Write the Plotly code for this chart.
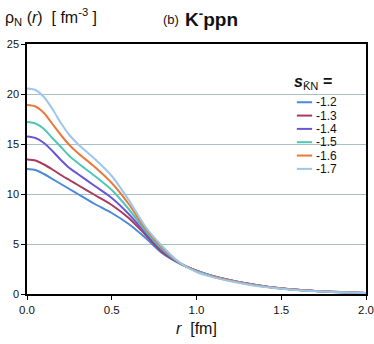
import plotly.graph_objects as go

# radial grid [fm]
r = [0.0, 0.05, 0.1, 0.15, 0.2, 0.25, 0.3, 0.4, 0.5, 0.6, 0.7, 0.8, 0.9, 1.0,
     1.1, 1.2, 1.3, 1.4, 1.5, 1.6, 1.7, 1.8, 1.9, 2.0]

s_labels = ["-1.2", "-1.3", "-1.4", "-1.5", "-1.6", "-1.7"]

rho_12 = [12.5, 12.4, 12.0, 11.5, 11.0, 10.5, 10.0, 9.0, 8.1, 7.0, 5.6, 4.05, 3.05, 2.3,
          1.75, 1.35, 1.02, 0.76, 0.56, 0.41, 0.30, 0.21, 0.15, 0.10]
rho_13 = [13.45, 13.35, 12.95, 12.45, 11.9, 11.4, 10.9, 9.9, 8.9, 7.6, 5.9, 4.15, 3.08, 2.33,
          1.78, 1.38, 1.05, 0.78, 0.58, 0.42, 0.31, 0.22, 0.16, 0.11]
rho_14 = [15.75, 15.6, 15.1, 14.3, 13.4, 12.6, 12.0, 10.8, 9.6, 8.0, 6.1, 4.3, 3.1, 2.33,
          1.78, 1.38, 1.05, 0.78, 0.58, 0.42, 0.31, 0.22, 0.16, 0.11]
rho_15 = [17.2, 17.05, 16.5, 15.6, 14.7, 13.8, 13.1, 11.8, 10.4, 8.5, 6.3, 4.45, 3.12, 2.3,
          1.75, 1.35, 1.02, 0.76, 0.56, 0.41, 0.30, 0.21, 0.15, 0.10]
rho_16 = [18.9, 18.75, 18.1, 17.0, 15.9, 14.9, 14.1, 12.7, 11.1, 9.0, 6.5, 4.6, 3.14, 2.27,
          1.72, 1.32, 1.0, 0.74, 0.55, 0.40, 0.29, 0.21, 0.15, 0.10]
rho_17 = [20.55, 20.4, 19.7, 18.5, 17.1, 15.9, 15.0, 13.5, 11.8, 9.4, 6.7, 4.75, 3.15, 2.2,
          1.66, 1.27, 0.96, 0.71, 0.53, 0.38, 0.28, 0.20, 0.14, 0.09]

series = [rho_12, rho_13, rho_14, rho_15, rho_16, rho_17]
colors = ["#4a8ad8", "#a83a5c", "#6b55d6", "#4ec7b5", "#e8793a", "#9cc6ec"]

FONT = "Liberation Sans, Arial, sans-serif"

fig = go.Figure()
for lab, ys, col in zip(s_labels, series, colors):
    fig.add_trace(go.Scatter(
        x=r, y=ys, name=lab, mode="lines",
        line=dict(color=col, width=2, shape="spline", smoothing=0.8),
        showlegend=False,
    ))

# ── hand-made compact legend (plotly's min row height is too tall) ──────────
ann = []
shapes = []
y0, dy = 0.767, 0.0533
for i, (lab, col) in enumerate(zip(s_labels, colors)):
    yy = y0 - i * dy
    shapes.append(dict(type="line", xref="paper", yref="paper",
                       x0=0.796, x1=0.841, y0=yy, y1=yy,
                       line=dict(color=col, width=2)))
    ann.append(dict(text=lab, xref="paper", yref="paper", x=0.847, y=yy,
                    xanchor="left", yanchor="middle", showarrow=False,
                    font=dict(size=12, color="#111", family=FONT)))

ann.append(dict(text="<b><i>s</i></b><sub>K̄N</sub> <b>=</b>", xref="paper", yref="paper",
                x=0.782, y=0.846, xanchor="left", yanchor="middle", showarrow=False,
                font=dict(size=16, color="#111", family=FONT)))

# titles
ann.append(dict(text="ρ<sub>N</sub> (<i>r</i>)  [ fm<sup>-3</sup> ]", xref="paper", yref="paper",
                x=-0.072, y=1.108, xanchor="left", yanchor="middle", showarrow=False,
                font=dict(size=16, color="#111", family=FONT)))
ann.append(dict(text="(b)", xref="paper", yref="paper",
                x=0.394, y=1.098, xanchor="left", yanchor="middle", showarrow=False,
                font=dict(size=13, color="#111", family=FONT)))
ann.append(dict(text="<b>K<sup>-</sup>ppn</b>", xref="paper", yref="paper",
                x=0.46, y=1.104, xanchor="left", yanchor="middle", showarrow=False,
                font=dict(size=19, color="#111", family=FONT)))
ann.append(dict(text="<i>r</i>  [fm]", xref="paper", yref="paper",
                x=0.5, y=-0.136, xanchor="center", yanchor="middle", showarrow=False,
                font=dict(size=16, color="#111", family=FONT)))

fig.update_layout(
    width=374, height=344,
    margin=dict(l=27, r=8, t=44, b=50),
    paper_bgcolor="white", plot_bgcolor="white",
    font=dict(family=FONT, size=11, color="#111"),
    annotations=ann, shapes=shapes,
    xaxis=dict(range=[0, 2], dtick=0.5, tickformat=".1f", automargin=False,
               ticklabeloverflow="allow",
               showline=True, linecolor="black", linewidth=1.5, mirror=True,
               ticks="outside", ticklen=4, tickcolor="black",
               showgrid=False, zeroline=False,
               tickfont=dict(size=11.5, family=FONT)),
    yaxis=dict(range=[0, 25], dtick=5, automargin=False,
               showline=True, linecolor="black", linewidth=1.5, mirror=True,
               ticks="outside", ticklen=4, tickcolor="black",
               showgrid=True, gridcolor="#a9bfc8", gridwidth=1, zeroline=False,
               tickfont=dict(size=11, family=FONT)),
)

# page body has a default 8px margin; drop it so the figure sits at the corner
fig.write_html("out.html", config={"displayModeBar": False},
               post_script="document.body.style.margin='0';")
